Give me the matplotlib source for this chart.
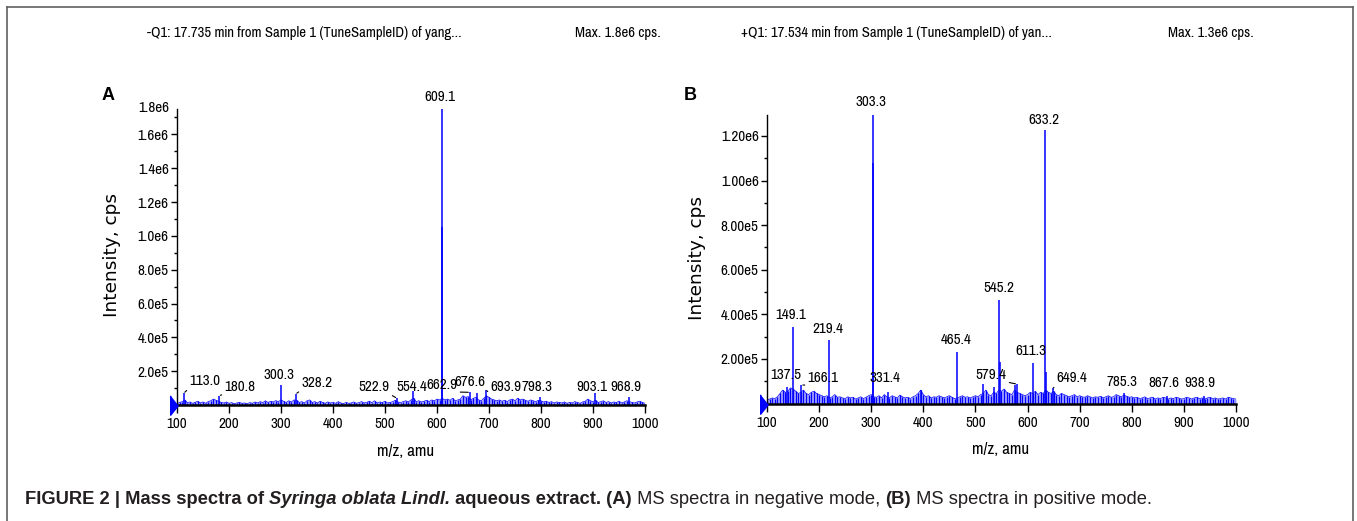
import numpy as np
import matplotlib
matplotlib.use('Agg')
import matplotlib.pyplot as plt
from matplotlib import font_manager as fm
from matplotlib.font_manager import FontProperties

# ---------------- data ----------------
mz_start, mz_stop, mz_step = 100, 1000, 5

# background (noise) intensities, in 1e3 cps, one value every 5 amu from 100 to 1000
noise_A_k = [
    8, 15, 20, 30, 14, 18, 10, 16, 22, 12, 18, 10, 20, 25, 35, 28, 22, 15, 12, 18,
    10, 14, 8, 12, 15, 10, 12, 8, 14, 10, 18, 12, 20, 14, 25, 15, 22, 18, 26, 20,
    30, 22, 15, 25, 18, 30, 28, 15, 20, 12, 25, 30, 15, 20, 12, 22, 15, 10, 18, 12,
    15, 10, 20, 12, 8, 15, 10, 12, 18, 10, 14, 20, 12, 16, 22, 14, 25, 12, 18, 15,
    22, 12, 15, 20, 28, 18, 14, 20, 25, 18, 30, 40, 20, 25, 18, 22, 28, 20, 30, 25,
    35, 30, 40, 30, 35, 28, 40, 25, 30, 35, 55, 45, 50, 30, 40, 45, 30, 25, 40, 55,
    45, 35, 30, 25, 30, 22, 28, 20, 30, 35, 25, 40, 30, 35, 28, 22, 30, 25, 20, 28,
    25, 18, 22, 15, 20, 12, 18, 15, 12, 18, 10, 15, 12, 20, 15, 10, 18, 22, 35, 25,
    20, 28, 15, 20, 25, 15, 20, 12, 18, 15, 22, 12, 18, 25, 20, 15, 12, 18, 22, 15,
    10]
noise_B_k = [
    15, 20, 25, 22, 30, 45, 60, 50, 55, 70, 65, 55, 45, 50, 60, 45, 40, 50, 55, 45,
    40, 35, 30, 35, 25, 30, 40, 28, 30, 25, 22, 30, 25, 28, 20, 25, 30, 22, 28, 35,
    40, 30, 28, 35, 25, 40, 30, 25, 35, 30, 25, 38, 30, 25, 28, 22, 30, 35, 45, 60,
    40, 30, 35, 25, 30, 28, 35, 30, 25, 30, 35, 28, 22, 25, 30, 35, 28, 30, 25, 30,
    35, 30, 40, 45, 60, 40, 35, 50, 45, 60, 55, 65, 50, 45, 40, 60, 50, 45, 40, 35,
    40, 50, 45, 55, 40, 50, 45, 60, 50, 45, 55, 40, 35, 45, 40, 35, 30, 35, 40, 30,
    35, 30, 28, 35, 30, 25, 30, 28, 32, 25, 30, 35, 28, 30, 40, 35, 30, 38, 32, 28,
    30, 25, 28, 22, 25, 30, 22, 25, 28, 20, 25, 22, 28, 25, 20, 25, 22, 28, 25, 20,
    22, 28, 25, 20, 25, 28, 22, 25, 20, 25, 28, 22, 25, 20, 22, 25, 20, 28, 25, 22,
    20]

# Panel A (negative mode) peaks
peaks_A_mz = [113.0, 180.8, 300.3, 328.2, 522.9, 554.4, 609.1, 610.0, 662.9, 676.6,
              693.9, 798.3, 903.1, 968.9]
peaks_A_int = [7.0e4, 5.5e4, 1.2e5, 6.5e4, 4.0e4, 8.0e4, 1.75e6, 1.05e6, 7.5e4, 7.0e4,
               9.0e4, 5.0e4, 7.0e4, 4.5e4]
peaks_A_lab = ['113.0', '180.8', '300.3', '328.2', '522.9', '554.4', '609.1', '',
               '662.9', '676.6', '693.9', '798.3', '903.1', '968.9']

# Panel B (positive mode) peaks
peaks_B_mz = [137.5, 149.1, 166.1, 219.4, 302.6, 303.3, 331.4, 396.0, 465.4, 514.0,
              536.0, 545.2, 546.2, 576.0, 579.4, 611.3, 633.2, 634.6, 649.4, 785.3,
              867.6, 938.9]
peaks_B_int = [7.5e4, 3.43e5, 8.3e4, 2.85e5, 1.08e6, 1.294e6, 5.0e4, 6.0e4, 2.32e5, 8.7e4,
               7.5e4, 4.64e5, 1.88e5, 8.5e4, 8.7e4, 1.82e5, 1.227e6, 1.43e5, 7.0e4, 4.5e4,
               3.5e4, 3.5e4]
peaks_B_lab = ['137.5', '149.1', '166.1', '219.4', '', '303.3', '331.4', '', '465.4', '',
               '', '545.2', '', '', '579.4', '611.3', '633.2', '', '649.4', '785.3',
               '867.6', '938.9']

yticks_A = [2e5, 4e5, 6e5, 8e5, 1.0e6, 1.2e6, 1.4e6, 1.6e6]
yticklabels_A = ['2.0e5', '4.0e5', '6.0e5', '8.0e5', '1.0e6', '1.2e6', '1.4e6', '1.6e6']
ytop_label_A = '1.8e6'
yticks_B = [2e5, 4e5, 6e5, 8e5, 1.0e6, 1.2e6]
yticklabels_B = ['2.00e5', '4.00e5', '6.00e5', '8.00e5', '1.00e6', '1.20e6']
xticks = [100, 200, 300, 400, 500, 600, 700, 800, 900, 1000]

title_A = '-Q1: 17.735 min from Sample 1 (TuneSampleID) of yang...'
max_A = 'Max. 1.8e6 cps.'
title_B = '+Q1: 17.534 min from Sample 1 (TuneSampleID) of yan...'
max_B = 'Max. 1.3e6 cps.'

# ---------------- layout (positions of peak labels, data coords) ----------------
# label -> (x m/z, y intensity, leader anchor on text or None)
lab_pos_A = {
    '609.1': (605.8, 1.82e6, None), '113.0': (153.8, 1.42e5, (0, 0)),
    '180.8': (221, 1.06e5, (0, 0)), '300.3': (296, 1.77e5, None),
    '328.2': (369, 1.30e5, (0, 0)), '522.9': (479, 1.06e5, (1, 0)),
    '554.4': (552, 1.06e5, None), '662.9': (609.6, 1.18e5, (1, 0)),
    '676.6': (663.5, 1.36e5, None), '693.9': (732.7, 1.06e5, (0, 0)),
    '798.3': (792, 1.06e5, None), '903.1': (898, 1.06e5, None),
    '968.9': (963.5, 1.06e5, None)}
lab_pos_B = {
    '303.3': (299.6, 1.353e6, None), '633.2': (631.7, 1.272e6, None),
    '149.1': (146.1, 3.97e5, None), '219.4': (216.1, 3.34e5, None),
    '465.4': (462.8, 2.85e5, None), '545.2': (545.3, 5.18e5, None),
    '611.3': (606.7, 2.36e5, None), '137.5': (136.5, 1.28e5, None),
    '166.1': (207.5, 1.14e5, (0, 0)), '331.4': (326.5, 1.14e5, None),
    '579.4': (530, 1.28e5, (1, 0)), '649.4': (685.4, 1.14e5, (0, 0)),
    '785.3': (781.4, 9.6e4, None), '867.6': (862, 9.2e4, None),
    '938.9': (931, 9.2e4, None)}

W, H = 1357, 521
BLUE = '#0000ff'

# ---- fonts: prefer a narrow/condensed face for the instrument texts ----
names = {f.name for f in fm.fontManager.ttflist}
SANS = 'Liberation Sans' if 'Liberation Sans' in names else 'DejaVu Sans'
narrow_file = None
for f in fm.fontManager.ttflist:
    cond = ('Narrow' in f.name) or (str(f.stretch) in ('condensed', 'semi-condensed')) \
        or ('Condensed' in f.fname and 'Semi' not in f.fname)
    if cond and f.style == 'normal' and f.weight in (400, 'normal', 'regular'):
        if narrow_file is None or 'Narrow' in f.name:
            narrow_file = f.fname


def nfp(size):
    if narrow_file:
        return FontProperties(fname=narrow_file, size=size)
    return FontProperties(family=SANS, size=size)


fig = plt.figure(figsize=(W / 100, H / 100), dpi=100)
fig.patch.set_facecolor('white')
renderer = fig.canvas.get_renderer()


def fit_size(s, target_px, base=10.0):
    t = fig.text(0, 0, s, fontproperties=nfp(base))
    w = t.get_window_extent(renderer).width
    t.remove()
    return base * target_px / w


LSIZE = fit_size('1.20e6', 38)       # tick + peak labels
TSIZE = fit_size(title_A, 313)       # instrument titles
MSIZE = fit_size('m/z, amu', 57)     # x-axis label


def px_rect(l, r, t, b):
    return [l / W, 1 - b / H, (r - l) / W, (b - t) / H]


def draw_panel(rect, noise_k, pmz, pint, plab, lab_pos, ytop, yt, ytl, minor):
    ax = fig.add_axes(rect)
    mz = np.arange(mz_start, mz_stop + 1, mz_step)
    noise = np.array(noise_k) * 1e3
    assert len(noise) == len(mz)
    ax.fill_between(mz, 0, noise, color=BLUE, lw=0, alpha=0.35)
    ax.vlines(mz, 0, noise, color=BLUE, lw=0.9)
    ax.plot(mz, noise, color=BLUE, lw=0.5)
    ax.vlines(pmz, 0, pint, color=BLUE, lw=1.1)
    ax.set_xlim(100, 1000)
    ax.set_ylim(0, ytop)
    for s in ('top', 'right'):
        ax.spines[s].set_visible(False)
    ax.spines['left'].set_linewidth(1.0)
    ax.spines['bottom'].set_linewidth(1.8)
    ax.spines['bottom'].set_zorder(5)
    ax.set_xticks(xticks)
    ax.set_xticklabels([str(v) for v in xticks])
    ax.set_yticks(yt)
    ax.set_yticklabels(ytl)
    ax.set_yticks(minor, minor=True)
    ax.tick_params(axis='x', direction='out', length=6, width=1, pad=3)
    ax.tick_params(axis='y', which='major', direction='out', length=4, width=1, pad=2)
    ax.tick_params(axis='y', which='minor', direction='out', length=2, width=1)
    for t in ax.get_xticklabels() + ax.get_yticklabels():
        t.set_fontproperties(nfp(LSIZE))
    # blue triangle at origin
    tri = [(-0.7, 1.0), (-0.7, -1.0), (0.1, 0.0)]
    ax.plot([100], [0], marker=tri, markersize=14, color=BLUE, clip_on=False, zorder=6)
    # peak labels
    for m, v, lab in zip(pmz, pint, plab):
        if not lab:
            continue
        lx, ly, rel = lab_pos[lab]
        kw = dict(ha='center', va='center', fontproperties=nfp(LSIZE),
                  annotation_clip=False, zorder=7)
        if rel is None:
            ax.annotate(lab, xy=(lx, ly), **kw)
        else:
            ax.annotate(lab, xy=(m, v), xytext=(lx, ly),
                        arrowprops=dict(arrowstyle='-', lw=0.8, color='k',
                                        shrinkA=0, shrinkB=1, relpos=rel), **kw)
    return ax


axA = draw_panel(px_rect(177, 645, 109, 405), noise_A_k, peaks_A_mz, peaks_A_int,
                 peaks_A_lab, lab_pos_A, 1.75e6, yticks_A, yticklabels_A,
                 [1e5, 3e5, 5e5, 7e5, 9e5, 1.1e6, 1.3e6, 1.5e6, 1.7e6])
axA.annotate(ytop_label_A, xy=(0, 1), xycoords='axes fraction', xytext=(-8, 1),
             textcoords='offset pixels', ha='right', va='center',
             fontproperties=nfp(LSIZE))
axB = draw_panel(px_rect(767, 1236, 115, 403.5), noise_B_k, peaks_B_mz, peaks_B_int,
                 peaks_B_lab, lab_pos_B, 1.294e6, yticks_B, yticklabels_B,
                 [1e5, 3e5, 5e5, 7e5, 9e5, 1.1e6])


def ftext(x, y, s, **kw):
    return fig.text(x / W, 1 - y / H, s, **kw)


# titles
for x, s in ((147, title_A), (575, max_A), (741, title_B), (1168, max_B)):
    ftext(x, 33, s, ha='left', va='center', fontproperties=nfp(TSIZE))
# panel letters
ftext(108, 95, 'A', ha='center', va='center', fontfamily=SANS, fontsize=13, fontweight='bold')
ftext(690, 95, 'B', ha='center', va='center', fontfamily=SANS, fontsize=13, fontweight='bold')
# axis labels
for x, y in ((112, 255), (697, 258)):
    ftext(x, y, 'Intensity, cps', rotation=90, ha='center', va='center',
          fontfamily='DejaVu Sans', fontsize=13.3)
for x, y in ((406, 452), (1001, 450)):
    ftext(x, y, 'm/z, amu', ha='center', va='center', fontproperties=nfp(MSIZE))

# outer frame (open at bottom)
frame_col = '#606060'
fig.add_artist(plt.Line2D([7 / W, 7 / W], [0, 1 - 7 / H], color=frame_col, lw=1.2))
fig.add_artist(plt.Line2D([7 / W, 1353 / W], [1 - 7 / H, 1 - 7 / H], color=frame_col, lw=1.2))
fig.add_artist(plt.Line2D([1353 / W, 1353 / W], [0, 1 - 7 / H], color=frame_col, lw=1.2))

# caption (pieces chained left to right, sized to span 25..1153 px)
cap_parts = [('FIGURE 2 | Mass spectra of ', 'bold', 'normal'),
             ('Syringa oblata Lindl.', 'bold', 'italic'),
             (' aqueous extract. (A)', 'bold', 'normal'),
             (' MS spectra in negative mode, ', 'normal', 'normal'),
             ('(B)', 'bold', 'normal'),
             (' MS spectra in positive mode.', 'normal', 'normal')]


def place_caption(size):
    cx = 25
    arts = []
    for s, wgt, sty in cap_parts:
        t = ftext(cx, 500, s, ha='left', va='center', fontfamily=SANS, fontsize=size,
                  fontweight=wgt, fontstyle=sty, color='#231f20')
        cx = t.get_window_extent(renderer).x1
        arts.append(t)
    return arts, cx


arts, end = place_caption(12.0)
for a in arts:
    a.remove()
place_caption(12.0 * (1153 - 25) / (end - 25))

fig.savefig('out.png', dpi=100)
